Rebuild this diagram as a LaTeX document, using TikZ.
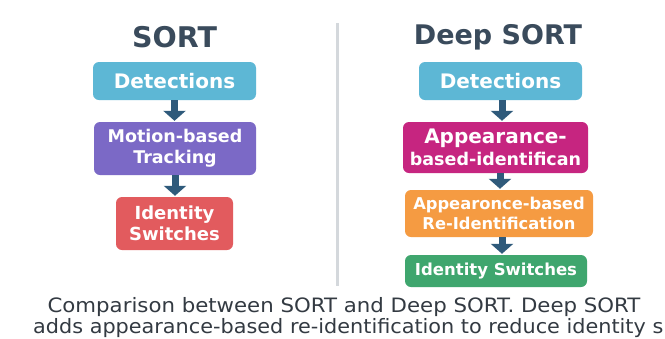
\documentclass[tikz,border=0pt]{standalone}
\usepackage{fontspec}
\setmainfont{DejaVu Sans}
\usetikzlibrary{arrows.meta,calc}
\definecolor{titlec}{HTML}{3A4B5C}
\definecolor{detc}{HTML}{5DB7D5}
\definecolor{motc}{HTML}{7B69C6}
\definecolor{idc}{HTML}{E25B5E}
\definecolor{magc}{HTML}{C62580}
\definecolor{orac}{HTML}{F59B42}
\definecolor{grnc}{HTML}{3FA66E}
\definecolor{arrc}{HTML}{2F5A7B}
\definecolor{capc}{HTML}{333A42}
\definecolor{divc}{HTML}{D4D8DC}
\tikzset{
  box/.style={rounded corners=6pt, inner sep=0pt, text=white, font=\bfseries, align=center},
  ttl/.style={text=titlec, font=\bfseries\fontsize{27}{30}\selectfont, inner sep=0pt},
  arr/.style={arrc, line width=7pt, -{Triangle[width=22pt,length=10pt]}, shorten >=1pt},
  captext/.style={text=capc, font=\fontsize{19.8}{24}\selectfont, inner sep=0pt, anchor=base}
}
\begin{document}
\begin{tikzpicture}[x=1pt,y=-1pt]
\useasboundingbox (0,0) rectangle (665,338);
\fill[white] (0,0) rectangle (665,338);
% divider
\draw[divc, line width=3pt] (337,23) -- (337,286);
% titles
\node[ttl, font=\bfseries\fontsize{28.5}{30}\selectfont] (t1) at (174.5,37) {SORT};
\node[ttl] (t2) at (498,37) {Deep SORT};
% left column
\node[box, fill=detc, minimum width=163pt, minimum height=38pt, font=\bfseries\fontsize{20}{22}\selectfont] (l1) at (174.5,81) {Detections};
\node[box, fill=motc, minimum width=162pt, minimum height=53pt, font=\bfseries\fontsize{17.5}{21}\selectfont] (l2) at (175,148.5) {Motion-based\\Tracking};
\node[box, fill=idc, minimum width=117pt, minimum height=53pt, font=\bfseries\fontsize{18}{21.5}\selectfont] (l3) at (174.5,223.5) {Identity\\Switches};
% right column
\node[box, fill=detc, minimum width=163pt, minimum height=38pt, font=\bfseries\fontsize{20}{22}\selectfont] (r1) at (500.5,81) {Detections};
\node[box, fill=magc, minimum width=185pt, minimum height=51pt, font=\bfseries\fontsize{20}{21.5}\selectfont] (r2) at (495.5,147.5) {Appearance-\\{\fontsize{17.5}{21}\selectfont based-identifican}};
\node[box, fill=orac, minimum width=188pt, minimum height=47pt, font=\bfseries\fontsize{16.3}{19.5}\selectfont] (r3) at (499,213.5) {Appearonce-based\\Re-Identification};
\node[box, fill=grnc, minimum width=182pt, minimum height=32pt, font=\bfseries\fontsize{16.5}{20}\selectfont] (r4) at (496,271) {Identity Switches};
% arrows
\draw[arr] (l1.south) -- (l1.south |- l2.north);
\draw[arr] (l2.south) -- (l2.south |- l3.north);
\draw[arr] ($(r1.south)+(1.5,0)$) coordinate (a1) -- (a1 |- r2.north);
\draw[arr] ($(r2.south)+(4.5,0)$) coordinate (a2) -- (a2 |- r3.north);
\draw[arr] ($(r3.south)+(3,0)$) coordinate (a3) -- (a3 |- r4.north);
% caption
\node[captext] (c1) at (344,312) {\scalebox{1.075}[1]{Comparison between SORT and Deep SORT. Deep SORT}};
\node[captext, anchor=base west] (c2) at (33,333) {\scalebox{1.05}[1]{adds appearance-based re-identification to reduce identity s}};
\end{tikzpicture}
\end{document}
